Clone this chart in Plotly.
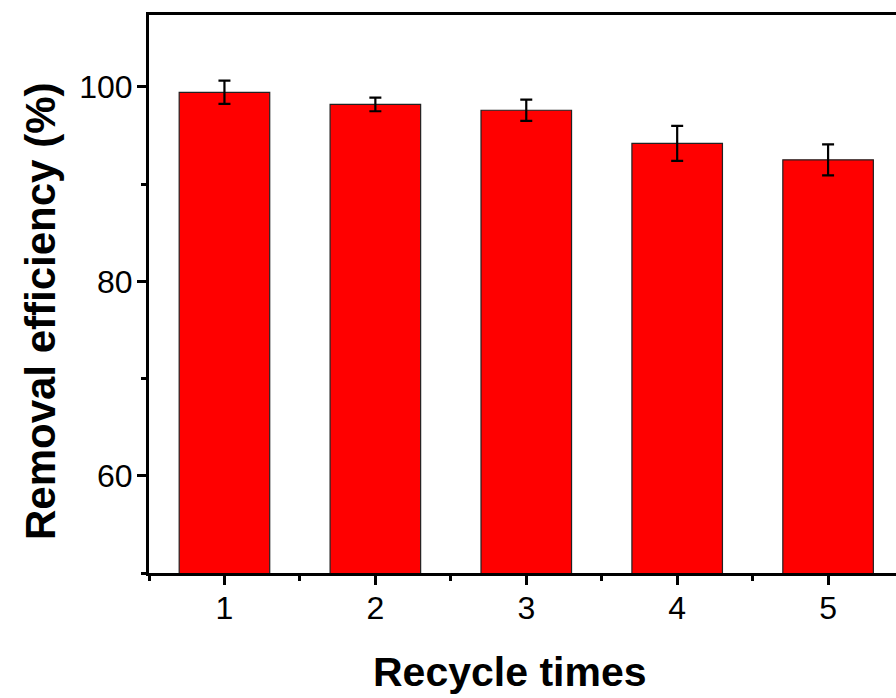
import plotly.graph_objects as go

cycles = [1, 2, 3, 4, 5]
efficiency = [99.45, 98.2, 97.6, 94.2, 92.5]
err = [1.2, 0.7, 1.1, 1.8, 1.6]
y_ticks = [60, 80, 100]
x_ticks = [1, 2, 3, 4, 5]

fig = go.Figure()
fig.add_trace(go.Bar(
    x=cycles, y=efficiency, width=0.6,
    marker=dict(color="#ff0000", line=dict(color="#222222", width=1.2)),
    error_y=dict(type="data", array=err, visible=True, color="black", thickness=2.2, width=6),
))

font_family = "Liberation Sans, Arial, sans-serif"
fig.update_layout(
    width=896, height=698,
    margin=dict(l=149, r=0, t=15, b=125),
    plot_bgcolor="white", paper_bgcolor="white",
    showlegend=False,
    font=dict(family=font_family, color="black"),
    bargap=0.4,
)
fig.update_xaxes(
    range=[0.5, 5.45], tickvals=x_ticks, ticktext=[str(v) for v in x_ticks],
    showline=True, linecolor="black", linewidth=3, mirror=True,
    ticks="outside", ticklen=9, tickwidth=3, tickcolor="black",
    minor=dict(tickvals=[0.5, 1.5, 2.5, 3.5, 4.5], ticks="outside", ticklen=5, tickwidth=3, tickcolor="black"),
    showgrid=False, zeroline=False,
    tickfont=dict(size=32, family=font_family),
    ticklabelstandoff=-4,
)
fig.update_yaxes(
    range=[50, 107.4], tickvals=y_ticks, ticktext=[str(v) for v in y_ticks],
    showline=True, linecolor="black", linewidth=3, mirror=False,
    ticks="outside", ticklen=9, tickwidth=3, tickcolor="black",
    minor=dict(tickvals=[50, 70, 90], ticks="outside", ticklen=5, tickwidth=3, tickcolor="black"),
    showgrid=False, zeroline=False,
    tickfont=dict(size=32, family=font_family),
    ticklabelstandoff=-2,
)

fig.add_annotation(
    text="<b>Recycle times</b>", xref="paper", yref="paper",
    x=0.4833, y=-0.1774, xanchor="center", yanchor="middle", showarrow=False,
    font=dict(size=41, family=font_family, color="black"),
)
fig.add_annotation(
    text="<b>Removal efficiency (%)</b>", xref="paper", yref="paper",
    x=-0.1459, y=0.4695, xanchor="center", yanchor="middle", showarrow=False,
    textangle=-90, font=dict(size=42, family=font_family, color="black"),
)

fig.write_html("out.html")
